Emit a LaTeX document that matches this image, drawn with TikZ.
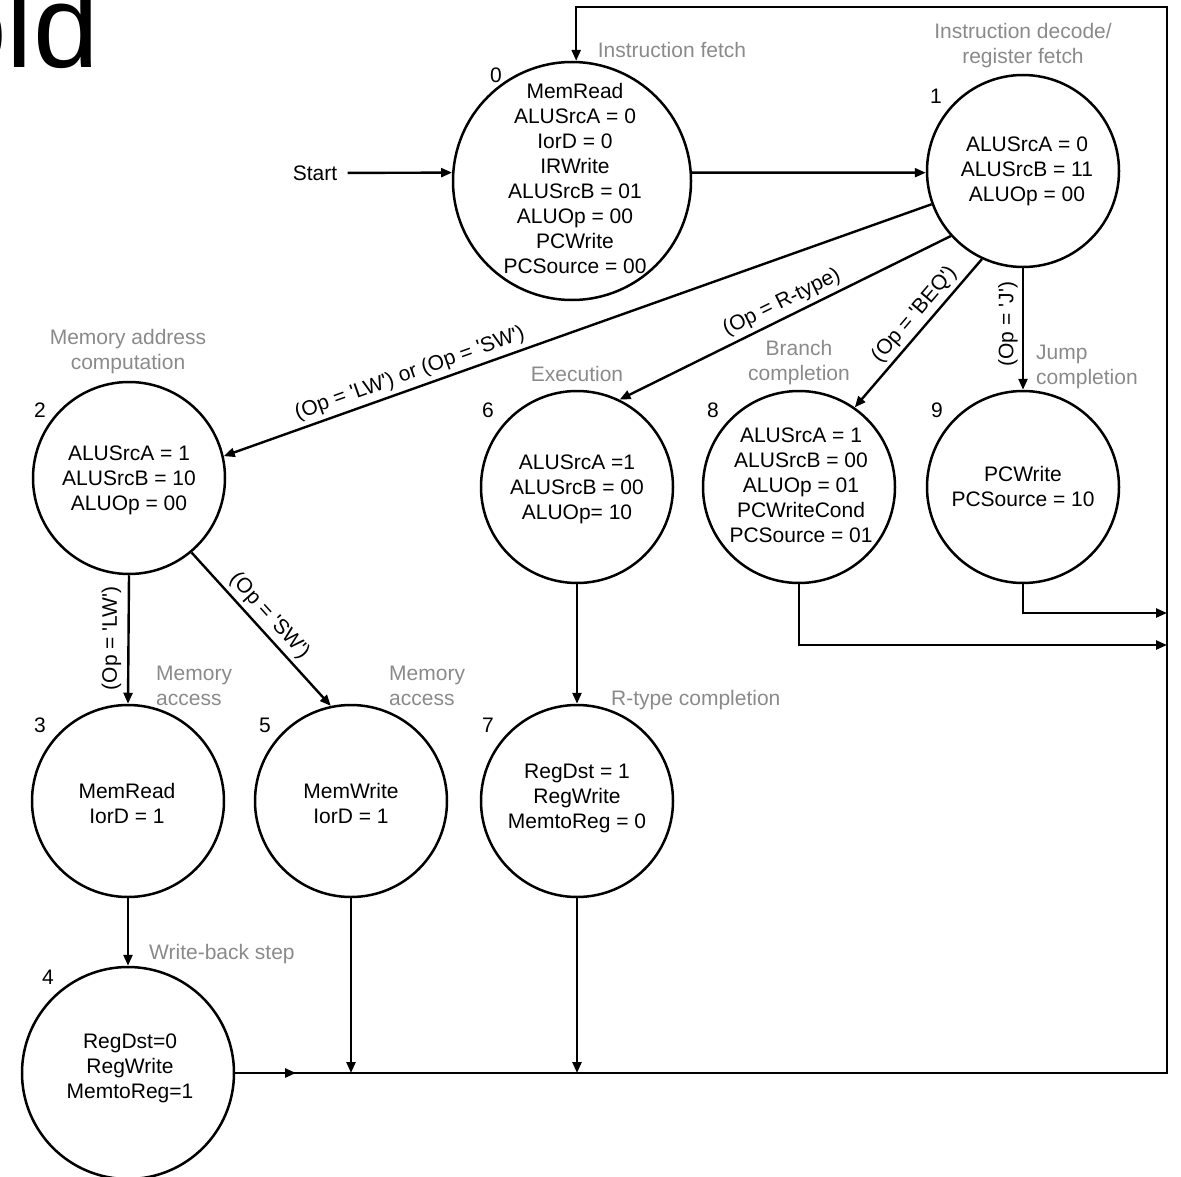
\documentclass[tikz,border=0pt]{standalone}
\usepackage{fontspec}
\setmainfont{Liberation Sans}
\usetikzlibrary{arrows.meta,calc}
\definecolor{lblgray}{RGB}{138,138,138}
\newcommand{\myq}{\textquotesingle}
\begin{document}
\begin{tikzpicture}[x=1pt,y=-1pt,
  every node/.style={font=\fontsize{21}{25}\selectfont},
  stbox/.style={draw, circle, line width=2.5pt, minimum size=192pt, inner sep=0pt},
  sttext/.style={align=center, inner sep=0pt},
  conn/.style={line width=2.4pt},
  arr/.style={conn, -{Triangle[length=11pt,width=9pt]}},
  phase/.style={text=lblgray, inner sep=0pt},
  phasel/.style={text=lblgray, inner sep=0pt, anchor=west, align=left},
  num/.style={inner sep=0pt},
  cond/.style={inner sep=4pt, sloped, above}
]
\useasboundingbox (0,0) rectangle (1181,1177);
\clip (0,0) rectangle (1181,1177);

% cut-off title fragment
\node[anchor=base east, inner sep=0pt, font=\fontsize{118}{118}\selectfont] (ttl) at (99,68) {old};

% states
\node[stbox, minimum size=238pt] (s0) at (572,181) {};
\node[stbox] (s1) at (1023,171) {};
\node[stbox] (s2) at (129,478) {};
\node[stbox] (s6) at (577,487) {};
\node[stbox] (s8) at (799,487) {};
\node[stbox] (s9) at (1023,487) {};
\node[stbox] (s3) at (128,801) {};
\node[stbox] (s5) at (351,801) {};
\node[stbox] (s7) at (577,801) {};
\node[stbox, minimum size=212pt] (s4) at (128,1073) {};

% state contents
\node[sttext] (t0) at (575,178) {MemRead\\ALUSrcA = 0\\IorD = 0\\IRWrite\\ALUSrcB = 01\\ALUOp = 00\\PCWrite\\PCSource = 00};
\node[sttext] (t1) at (1027,171) {ALUSrcA = 0\\ALUSrcB = 11\\ALUOp = 00};
\node[sttext] (t2) at (129,480) {ALUSrcA = 1\\ALUSrcB = 10\\ALUOp = 00};
\node[sttext] (t6) at (577,489) {ALUSrcA =1\\ALUSrcB = 00\\ALUOp= 10};
\node[sttext] (t8) at (801,485) {ALUSrcA = 1\\ALUSrcB = 00\\ALUOp = 01\\PCWriteCond\\PCSource = 01};
\node[sttext] (t9) at (1023,486) {PCWrite\\PCSource = 10};
\node[sttext] (t3) at (127,803) {MemRead\\IorD = 1};
\node[sttext] (t5) at (351,803) {MemWrite\\IorD = 1};
\node[sttext] (t7) at (577,798) {RegDst = 1\\RegWrite\\MemtoReg = 0};
\node[sttext] (t4) at (130,1068) {RegDst=0\\RegWrite\\MemtoReg=1};

% state numbers
\node[num] (n0) at (496,75) {0};
\node[num] (n1) at (936,96) {1};
\node[num] (n2) at (40,410) {2};
\node[num] (n6) at (488,410) {6};
\node[num] (n8) at (713,410) {8};
\node[num] (n9) at (937,410) {9};
\node[num] (n3) at (40,725) {3};
\node[num] (n5) at (265,725) {5};
\node[num] (n7) at (488,725) {7};
\node[num] (n4) at (48,977) {4};

% phase labels
\node[phase] (p0) at (672,50) {Instruction fetch};
\node[phase, align=center] (p1) at (1023,46) {Instruction decode/\\register fetch};
\node[phase, align=center] (p2) at (128,352) {Memory address\\computation};
\node[phase] (p6) at (577,374) {Execution};
\node[phase, align=center] (p8) at (799,363) {Branch\\completion};
\node[phasel] (p9) at (1036,367) {Jump\\completion};
\node[phasel] (p3) at (156,686) {Memory\\access};
\node[phasel] (p5) at (389,686) {Memory\\access};
\node[phasel] (p7) at (611,700) {R-type completion};
\node[phasel] (p4) at (149,954) {Write-back step};

% start
\node (start) at (315,173) {Start};

% helper coordinates
\coordinate (br) at (1167,1073);
\coordinate (tr) at (1167,7);
\coordinate (c8) at (1167,645);
\coordinate (c9) at (1167,613);
\coordinate (m4) at (296,1073);

% connectors
\draw[arr, shorten <=7pt] (start) -- (s0.176);
\draw[arr] (s0.4) -- (s1.181);
\draw[arr] (s1.200) -- (s2.13) node[cond, pos=0.73] (l2) {(Op = \myq LW\myq) or (Op = \myq SW\myq)};
\draw[arr] (s1.222) -- (s6.64) node[cond, pos=0.49] (l6) {(Op = R-type)};
\draw[arr] (s1.245) -- (s8.55) node[cond, pos=0.44] (l8) {(Op = \myq BEQ\myq)};
\draw[arr] (s1.south) -- (s9.north) node[pos=0.46, rotate=90, anchor=south, inner sep=4pt] (l9) {(Op = \myq J\myq)};
\draw[arr] (s2.south) -- (s3.north) node[pos=0.49, rotate=90, anchor=south, inner sep=6pt] (l3) {(Op = \myq LW\myq)};
\draw[arr] (s2.310) -- (s5.102) node[cond, pos=0.48] (l5) {(Op = \myq SW\myq)};
\draw[arr] (s3.south) -- (s4.north);
\draw[arr] (s6.south) -- (s7.north);
\draw[arr] (s5.south) -- (s5.south |- br);
\draw[arr] (s7.south) -- (s7.south |- br);
\draw[arr] (s8.south) |- (c8);
\draw[arr] (s9.south) |- (c9);
\draw[arr] (s4.east) -- (m4);
\draw[arr] (s4.east) -- (br) -- (tr) -| (s0.88);
\end{tikzpicture}
\end{document}
